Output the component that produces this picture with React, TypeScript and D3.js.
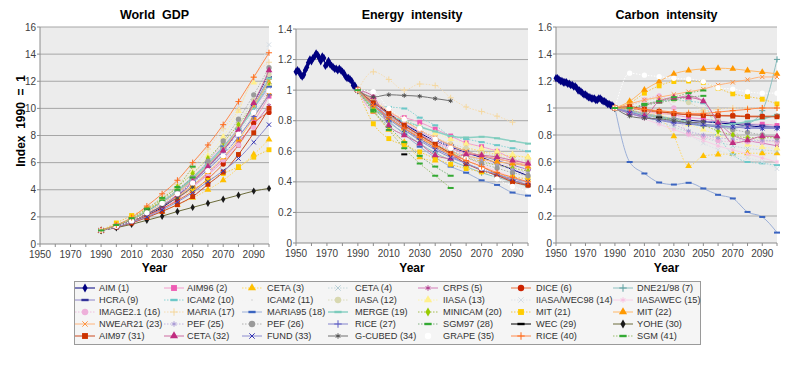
import * as d3 from "d3";
import * as React from "react";

type V = number | null;
const _ = null;

// scenario years and historical years
const years = [1990, 2000, 2010, 2020, 2030, 2040, 2050, 2060, 2070, 2080, 2090, 2100];
const histYears = [
  1950, 1951, 1952, 1953, 1954, 1955, 1956, 1957, 1958, 1959, 1960, 1961, 1962, 1963,
  1964, 1965, 1966, 1967, 1968, 1969, 1970, 1971, 1972, 1973, 1974, 1975, 1976, 1977,
  1978, 1979, 1980, 1981, 1982, 1983, 1984, 1985, 1986, 1987, 1988, 1989, 1990,
];

const energyHist = [
  1.12, 1.13, 1.12, 1.1, 1.09, 1.1, 1.13, 1.15, 1.18, 1.2, 1.19, 1.21, 1.22, 1.24,
  1.23, 1.21, 1.19, 1.22, 1.21, 1.16, 1.17, 1.19, 1.17, 1.16, 1.15, 1.14, 1.14, 1.13,
  1.14, 1.13, 1.12, 1.11, 1.09, 1.08, 1.08, 1.07, 1.06, 1.03, 1.03, 1.01, 1.0,
];
const carbonHist = [
  1.22, 1.22, 1.21, 1.2, 1.2, 1.19, 1.19, 1.19, 1.18, 1.18, 1.17, 1.17, 1.16, 1.16,
  1.15, 1.13, 1.13, 1.12, 1.11, 1.1, 1.1, 1.09, 1.08, 1.08, 1.07, 1.07, 1.07, 1.06,
  1.06, 1.07, 1.07, 1.06, 1.05, 1.05, 1.04, 1.03, 1.03, 1.02, 1.02, 1.01, 1.0,
];

// World GDP, index 1990 = 1
const gdp: Record<number, V[]> = {
  1: [1, 1.25, 1.6, 2.1, 2.7, 3.5, 4.6, 5.7, 6.9, 8.4, 10.4, 12.6],
  2: [1, 1.3, 1.6, 2.0, 2.6, 3.3, 4.2, 5.1, 6.1, 7.3, 9.0, 10.9],
  3: [1, 1.3, 1.6, 2.0, 2.4, 2.9, 3.4, 4.0, 4.7, 5.6, 6.6, 7.7],
  4: [1, 1.3, 1.7, 2.2, 2.8, 3.5, 4.4, 5.4, 6.5, 7.9, 9.5, 11.2],
  5: [1, 1.3, 1.7, 2.2, 2.8, 3.5, 4.3, 5.2, 6.3, 7.5, 8.8, 10.2],
  6: [1, 1.3, 1.65, 2.1, 2.6, 3.2, 3.9, 4.8, 5.9, 7.3, 8.9, 9.7],
  7: [1, 1.35, 1.8, 2.4, 3.0, 3.8, 4.8, 5.8, 7.0, 8.4, 10.0, 11.8],
  9: [1, 1.3, 1.7, 2.2, 2.8, 3.6, 4.6, 5.7, 7.0, 8.4, 10.2, 12.3],
  10: [1, 1.3, 1.7, 2.3, 2.9, 3.7, 4.7, 5.8, 7.0, 8.4, 10.1, 12.2],
  12: [1, 1.35, 1.8, 2.4, 3.1, 4.0, 5.0, 6.1, 7.4, 8.9, 10.6, 12.5],
  13: [1, 1.4, 1.9, 2.5, 3.3, 4.2, 5.3, 6.5, 7.9, 9.8, 11.9, 11.8],
  14: [1, 1.4, 1.9, 2.6, 3.5, 4.6, 5.9, 7.2, 8.6, 10.2, 12.2, 14.7],
  15: [1, 1.35, 1.8, 2.4, 3.1, 4.0, 5.0, 6.1, 7.3, 8.6, 10.0, 11.5],
  16: [1, 1.3, 1.7, 2.2, 2.8, 3.5, 4.3, 5.2, 6.2, 7.3, 8.6, 10.0],
  17: [1, 1.4, 1.9, 2.6, 3.4, 4.4, 5.6, 7.0, 8.5, 9.9, 12.3, 13.4],
  18: [1, 1.3, 1.7, 2.3, 3.0, 3.9, 4.9, 6.0, 7.2, 8.5, 10.0, 11.6],
  19: [1, 1.35, 1.8, 2.4, 3.1, 3.9, 4.9, 5.9, 7.1, 8.5, 10.0, 12.2],
  20: [1, 1.35, 1.85, 2.5, 3.3, 4.2, 5.2, 6.3, 7.5, 8.8, 10.3, 11.9],
  21: [1, 1.55, 2.1, 2.6, 3.1, 3.5, 4.0, 4.7, 5.2, 5.7, 6.4, 6.95],
  22: [1, 1.3, 1.7, 2.2, 2.8, 3.5, 4.3, 5.3, 6.4, 7.7, 9.3, 11.1],
  23: [1, 1.35, 1.8, 2.3, 3.0, 3.8, 4.7, 5.8, 7.0, 8.5, 10.2, 12.0],
  25: [1, 1.3, 1.7, 2.2, 2.9, 3.7, 4.6, 5.6, 6.8, 8.2, 9.7, 11.4],
  26: [1, 1.35, 1.8, 2.4, 3.1, 3.9, 4.9, 6.1, 7.6, 9.2, 11.0, 13.0],
  27: [1, 1.3, 1.7, 2.2, 2.8, 3.6, 4.5, 5.5, 6.6, 7.9, 9.4, 11.0],
  28: [1, 1.35, 1.8, 2.4, 3.2, 4.0, 4.9],
  29: [_, _, _, 2.6],
  30: [1, 1.2, 1.45, 1.75, 2.05, 2.4, 2.7, 3.0, 3.3, 3.6, 3.9, 4.1],
  31: [1, 1.25, 1.55, 1.95, 2.4, 2.9, 3.5, 4.4, 5.3, 6.6, 8.2, 10.0],
  32: [1, 1.3, 1.7, 2.2, 2.8, 3.6, 4.6, 5.7, 6.9, 8.4, 10.4, 12.8],
  33: [1, 1.25, 1.6, 2.0, 2.5, 3.1, 3.8, 4.6, 5.4, 6.3, 7.5, 8.8],
  34: [1, 1.3, 1.7, 2.2, 2.8, 3.4, 4.2],
  35: [1, 1.3, 1.7, 2.3, 3.0, 3.7, 4.5, 5.4, 6.5, 8.1, 9.7, 11.3],
  40: [1, 1.4, 1.95, 2.8, 3.7, 4.7, 6.0, 7.3, 8.8, 10.5, 12.3, 14.1],
  41: [1, 1.4, 1.9, 2.6, 3.4, 4.2, 5.7],
};

// Energy intensity, index 1990 = 1
const energy: Record<number, V[]> = {
  1: [1, 0.93, 0.85, 0.78, 0.72, 0.67, 0.63, 0.59, 0.56, 0.52, 0.48, 0.44],
  2: [1, 0.86, 0.84, 0.82, 0.79, 0.745, 0.7, 0.655, 0.63, 0.6, 0.55, 0.52],
  3: [1, 0.86, 0.74, 0.66, 0.56, 0.54, 0.6, 0.62, 0.6, 0.58, 0.57, 0.56],
  4: [1, 0.9, 0.82, 0.76, 0.7, 0.65, 0.61, 0.58, 0.55, 0.53, 0.52, 0.51],
  5: [1, 0.92, 0.84, 0.77, 0.71, 0.66, 0.62, 0.59, 0.57, 0.55, 0.53, 0.5],
  6: [1, 0.9, 0.83, 0.76, 0.7, 0.64, 0.59, 0.54, 0.5, 0.45, 0.41, 0.38],
  7: [1, 0.88, 0.79, 0.72, 0.65, 0.59, 0.54, 0.5, 0.46, 0.43, 0.4, 0.37],
  9: [1, 0.92, 0.84, 0.78, 0.73, 0.68, 0.64, 0.6, 0.57, 0.54, 0.51, 0.48],
  10: [1, 0.9, 0.89, 0.88, 0.82, 0.77, 0.7, 0.68, 0.66, 0.64, 0.62, 0.6],
  12: [1, 0.93, 0.86, 0.8, 0.74, 0.69, 0.65, 0.62, 0.59, 0.57, 0.55, 0.54],
  13: [1, 0.94, 0.87, 0.81, 0.76, 0.72, 0.68, 0.65, 0.62, 0.6, 0.58, 0.56],
  14: [1, 0.92, 0.83, 0.76, 0.7, 0.64, 0.58, 0.53, 0.48, 0.44, 0.4, 0.36],
  15: [1, 0.93, 0.86, 0.79, 0.73, 0.67, 0.61, 0.56, 0.51, 0.47, 0.43, 0.39],
  16: [1, 0.95, 0.87, 0.8, 0.74, 0.68, 0.63, 0.58, 0.55, 0.52, 0.5, 0.48],
  17: [1, 1.12, 1.07, 1.0, 1.04, 1.03, 0.95, 0.89, 0.86, 0.83, 0.79],
  18: [1, 0.9, 0.8, 0.71, 0.63, 0.56, 0.5, 0.46, 0.41, 0.38, 0.33, 0.31],
  19: [1, 0.88, 0.83, 0.8, 0.76, 0.73, 0.7, 0.69, 0.695, 0.685, 0.667, 0.65],
  20: [1, 0.88, 0.81, 0.74, 0.68, 0.63, 0.59, 0.56, 0.53, 0.51, 0.49, 0.47],
  21: [1, 0.78, 0.683, 0.64, 0.596, 0.553, 0.515, 0.487, 0.465, 0.45, 0.432, 0.42],
  22: [1, 0.9, 0.82, 0.75, 0.69, 0.64, 0.6, 0.57, 0.55, 0.53, 0.52, 0.5],
  23: [1, 0.93, 0.86, 0.8, 0.74, 0.69, 0.64, 0.6, 0.57, 0.55, 0.53, 0.51],
  25: [1, 0.91, 0.83, 0.76, 0.7, 0.65, 0.61, 0.57, 0.54, 0.51, 0.48, 0.46],
  26: [1, 0.92, 0.84, 0.77, 0.71, 0.65, 0.6, 0.56, 0.52, 0.49, 0.46, 0.44],
  27: [1, 0.91, 0.82, 0.75, 0.68, 0.62, 0.57, 0.52, 0.48, 0.44, 0.41, 0.38],
  28: [1, 0.86, 0.76, 0.66, 0.57, 0.5, 0.44],
  29: [_, _, _, 0.58],
  31: [1, 0.917, 0.847, 0.77, 0.705, 0.646, 0.585, 0.52, 0.476, 0.443, 0.4, 0.378],
  32: [1, 0.957, 0.77, 0.705, 0.65, 0.574, 0.553, 0.58, 0.574, 0.563, 0.54, 0.52],
  33: [1, 0.9, 0.81, 0.74, 0.67, 0.61, 0.56, 0.52, 0.48, 0.45, 0.42, 0.4],
  34: [1, 0.955, 0.97, 0.965, 0.96, 0.945, 0.93],
  35: [1, 0.99, 0.88, 0.81, 0.75, 0.68, 0.62, 0.55, 0.49, 0.42, 0.37, 0.34],
  40: [1, 0.9, 0.82, 0.75, 0.69, 0.63, 0.58, 0.54, 0.5, 0.46, 0.43, 0.4],
  41: [1, 0.87, 0.74, 0.62, 0.52, 0.44, 0.36],
};

// Carbon intensity, index 1990 = 1
const carbon: Record<number, V[]> = {
  1: [1, 0.97, 0.95, 0.93, 0.92, 0.91, 0.9, 0.89, 0.88, 0.87, 0.86, 0.86],
  2: [1, 0.98, 0.97, 0.96, 0.95, 0.93, 0.92, 0.9, 0.89, 0.88, 0.88, 0.87],
  3: [1, 0.97, 0.95, 0.93, 0.79, 0.57, 0.644, 0.656, 0.66, 0.665, 0.665, 0.664],
  4: [1, 0.96, 0.93, 0.9, 0.86, 0.82, 0.78, 0.75, 0.72, 0.7, 0.69, 0.68],
  5: [1, 0.98, 1.02, 1.05, 1.07, 1.09, 1.05, 0.9, 0.8, 0.76, 0.74, 0.72],
  6: [1, 1.0, 0.98, 0.97, 0.96, 0.95, 0.95, 0.945, 0.945, 0.94, 0.94, 0.94],
  7: [1, 0.98, 0.96, 0.94, 0.92, 0.9, 0.88, 0.86, 0.85, 0.88, 0.98, 1.36],
  9: [1, 0.96, 0.93, 0.91, 0.9, 0.89, 0.9, 0.9, 0.89, 0.88, 0.87, 0.86],
  10: [1, 0.99, 1.03, 1.05, 1.06, 1.05, 1.035, 0.8, 0.656, 0.6, 0.59, 0.577],
  12: [1, 1.02, 1.05, 1.07, 1.06, 1.04, 0.98, 0.9, 0.83, 0.78, 0.76, 0.75],
  13: [1, 0.99, 0.97, 0.95, 0.92, 0.88, 0.84, 0.8, 0.76, 0.73, 0.71, 0.7],
  14: [1, 0.97, 0.93, 0.89, 0.85, 0.8, 0.74, 0.69, 0.65, 0.63, 0.6, 0.55],
  15: [1, 0.96, 0.92, 0.88, 0.84, 0.8, 0.76, 0.72, 0.69, 0.66, 0.63, 0.6],
  16: [1, 1.02, 1.06, 1.09, 1.0, 0.81, 0.79, 0.76, 0.75, 0.75, 0.75, 0.75],
  17: [1, 0.98, 0.96, 0.95, 0.96, 0.97, 0.98, 0.99, 1.0, 1.0, 1.0, 1.0],
  18: [1, 0.6, 0.515, 0.448, 0.433, 0.446, 0.404, 0.357, 0.33, 0.23, 0.193, 0.077],
  19: [1, 0.97, 0.95, 0.93, 0.91, 0.89, 0.87, 0.87, 0.88, 0.9, 0.92, 0.95],
  20: [1, 0.99, 0.95, 0.93, 0.916, 0.887, 0.87, 0.83, 0.8, 0.78, 0.78, 0.78],
  21: [1, 1.035, 1.11, 1.164, 1.196, 1.2, 1.19, 1.147, 1.105, 1.085, 1.065, 1.03],
  22: [1, 1.05, 1.134, 1.196, 1.253, 1.278, 1.29, 1.295, 1.29, 1.278, 1.266, 1.253],
  23: [1, 1.03, 1.06, 1.08, 1.1, 1.12, 1.14, 1.17, 1.19, 1.21, 1.23, 1.23],
  25: [1, 0.98, 0.95, 0.92, 0.88, 0.83, 0.8, 0.78, 0.77, 0.76, 0.76, 0.76],
  26: [1, 0.98, 0.96, 0.94, 0.92, 0.9, 0.88, 0.86, 0.84, 0.82, 0.8, 0.78],
  27: [1, 0.97, 0.94, 0.91, 0.89, 0.88, 0.87, 0.86, 0.86, 0.85, 0.85, 0.85],
  28: [1, 1.0, 1.02, 1.04, 1.06, 1.08, 1.09],
  29: [_, _, _, 0.93],
  31: [1, 1.01, 0.99, 0.975, 0.96, 0.95, 0.945, 0.942, 0.94, 0.935, 0.935, 0.935],
  32: [1, 0.96, 0.94, 1.05, 1.077, 1.077, 1.05, 0.89, 0.74, 0.76, 0.79, 0.79],
  33: [1, 0.96, 0.93, 0.91, 0.9, 0.89, 0.88, 0.87, 0.86, 0.86, 0.85, 0.85],
  34: [1, 0.94, 0.924, 0.92, 0.906, 0.89, 0.9],
  35: [1, 1.258, 1.243, 1.233, 1.22, 1.213, 1.196, 1.15, 1.14, 1.12, 1.11, 1.11],
  40: [1, 1.0, 0.99, 0.98, 0.97, 0.96, 0.96, 0.97, 0.98, 0.99, 1.0, 1.0],
  41: [1, 1.0, 1.03, 1.05, 1.08, 1.11, 1.13],
};

// legend order, row by row (7 per row)
const legendIds = [
  1, 2, 3, 4, 5, 6, 7,
  9, 10, 11, 12, 13, 14, 15,
  16, 17, 18, 19, 20, 21, 22,
  23, 25, 26, 27, 28, 29, 30,
  31, 32, 33, 34, 35, 40, 41,
];

type Mk = "diamond" | "square" | "triangle" | "circle" | "times" | "plus" | "asterisk" | "dash" | "dot";
interface Style { name: string; mk: Mk; color: string; line: string; dash?: string; lw?: number; }

const styles: Record<number, Style> = {
  1: { name: "AIM (1)", mk: "diamond", color: "#000080", line: "#000080" },
  2: { name: "AIM96 (2)", mk: "square", color: "#ee5cb4", line: "#f29ccc" },
  3: { name: "CETA (3)", mk: "triangle", color: "#ffc000", line: "#ffd966", dash: "1.5,1.5" },
  4: { name: "CETA (4)", mk: "times", color: "#b4ccd4", line: "#c4d8dc", dash: "1.5,1.5" },
  5: { name: "CRPS (5)", mk: "asterisk", color: "#b03a8c", line: "#d27cb8" },
  6: { name: "DICE (6)", mk: "circle", color: "#cc2200", line: "#e8703c" },
  7: { name: "DNE21/98 (7)", mk: "plus", color: "#5ea0a0", line: "#8cc0c0" },
  9: { name: "HCRA (9)", mk: "dash", color: "#333399", line: "#8c84c8" },
  10: { name: "ICAM2 (10)", mk: "dash", color: "#6cc8c8", line: "#88d4d4", dash: "1.5,1.5" },
  11: { name: "ICAM2 (11)", mk: "dot", color: "#c8c8c8", line: "#f4f4f4", dash: "1,2" },
  12: { name: "IIASA (12)", mk: "circle", color: "#d8d8b0", line: "#dcdcbc", dash: "1.5,1.5" },
  13: { name: "IIASA (13)", mk: "triangle", color: "#fff08c", line: "#fff4a8", dash: "1.5,1.5" },
  14: { name: "IIASA/WEC98 (14)", mk: "times", color: "#d4dce4", line: "#dde3ea", dash: "1.5,1.5" },
  15: { name: "IIASAWEC (15)", mk: "asterisk", color: "#f8c0e0", line: "#f8d0e8" },
  16: { name: "IMAGE2.1 (16)", mk: "circle", color: "#eeb0da", line: "#f0c0e0", dash: "1.5,1.5" },
  17: { name: "MARIA (17)", mk: "plus", color: "#f4d8a0", line: "#f6dcb0", dash: "1.5,1.5" },
  18: { name: "MARIA95 (18)", mk: "dash", color: "#3a64c0", line: "#9cb0d8" },
  19: { name: "MERGE (19)", mk: "dash", color: "#7cccbc", line: "#8cd0c4", lw: 1.5 },
  20: { name: "MINICAM (20)", mk: "diamond", color: "#99cc00", line: "#a4bc50", dash: "1.5,1.5" },
  21: { name: "MIT (21)", mk: "square", color: "#ffcc00", line: "#f4c848", dash: "1.5,1.5" },
  22: { name: "MIT (22)", mk: "triangle", color: "#ff9900", line: "#ffb868" },
  23: { name: "NWEAR21 (23)", mk: "times", color: "#ff9440", line: "#ffb47c" },
  25: { name: "PEF (25)", mk: "asterisk", color: "#a898d4", line: "#c0b4e0", dash: "1.5,1.5" },
  26: { name: "PEF (26)", mk: "circle", color: "#9a9a9a", line: "#b0b0b0", dash: "1.5,1.5" },
  27: { name: "RICE (27)", mk: "plus", color: "#5c5cc4", line: "#8484cc" },
  28: { name: "SGM97 (28)", mk: "dash", color: "#33aa33", line: "#80b080", dash: "1.5,1.5" },
  29: { name: "WEC (29)", mk: "dash", color: "#000000", line: "#000000" },
  30: { name: "YOHE (30)", mk: "diamond", color: "#1a1a1a", line: "#6b6b3a" },
  31: { name: "AIM97 (31)", mk: "square", color: "#cc3300", line: "#cc4a20" },
  32: { name: "CETA (32)", mk: "triangle", color: "#c02c80", line: "#cc6aa0" },
  33: { name: "FUND (33)", mk: "times", color: "#3434b4", line: "#8c8cd0" },
  34: { name: "G-CUBED (34)", mk: "asterisk", color: "#505050", line: "#707070" },
  35: { name: "GRAPE (35)", mk: "circle", color: "#ffffff", line: "#ffffff", dash: "1.5,1.5" },
  40: { name: "RICE (40)", mk: "plus", color: "#ff6a1a", line: "#ff8a4c" },
  41: { name: "SGM (41)", mk: "dash", color: "#33aa33", line: "#9cbc6c", dash: "1.5,1.5" },
};

const legendColX = [85, 174, 252, 338, 428, 521, 623];
const legendTextX = [99, 187, 267, 355, 443, 536, 637];
const legendRowY = [288, 300, 312, 324, 336];

const FONT = "'Liberation Sans', Arial, sans-serif";

const symType: Record<string, d3.SymbolType> = {
  diamond: d3.symbolDiamond,
  square: d3.symbolSquare,
  triangle: d3.symbolTriangle,
  circle: d3.symbolCircle,
  times: d3.symbolTimes,
  plus: d3.symbolPlus,
  asterisk: d3.symbolAsterisk,
};
const symSize: Record<string, number> = {
  diamond: 16, square: 24, triangle: 20, circle: 22, times: 14, plus: 14, asterisk: 14,
};
const strokeMk = new Set(["times", "plus", "asterisk"]);

function Marker({ mk, color, x, y, k = 1 }: { mk: Mk; color: string; x: number; y: number; k?: number }) {
  if (mk === "dash") return <rect x={x - 3 * k} y={y - 1 * k} width={6 * k} height={2 * k} fill={color} />;
  if (mk === "dot") return <circle cx={x} cy={y} r={0.7} fill={color} />;
  const d = d3.symbol(symType[mk], symSize[mk] * k * k)() as string;
  const stroke = strokeMk.has(mk);
  return (
    <path
      d={d}
      transform={`translate(${x},${y})`}
      fill={stroke ? "none" : color}
      stroke={stroke ? color : "none"}
      strokeWidth={stroke ? 1 : 0}
    />
  );
}

interface PanelDef {
  title: string; x0: number; x1: number; yTop: number; yBot: number;
  max: number; step: number; data: Record<number, V[]>; hist: number[] | null;
}

const panels: PanelDef[] = [
  { title: "World  GDP", x0: 40, x1: 269, yTop: 27, yBot: 244, max: 16, step: 2, data: gdp, hist: null },
  { title: "Energy  intensity", x0: 296, x1: 528, yTop: 29, yBot: 243, max: 1.4, step: 0.2, data: energy, hist: energyHist },
  { title: "Carbon  intensity", x0: 556, x1: 777, yTop: 27, yBot: 243, max: 1.6, step: 0.2, data: carbon, hist: carbonHist },
];

function Panel({ p }: { p: PanelDef }) {
  const x = d3.scaleLinear().domain([1950, 2100]).range([p.x0, p.x1]);
  const y = d3.scaleLinear().domain([0, p.max]).range([p.yBot, p.yTop]);
  const yTicks = d3.range(0, p.max + 1e-9, p.step);
  const xMinor = d3.range(1950, 2101, 10);
  const xLabels = d3.range(1950, 2100, 20);
  const line = d3
    .line<[number, V]>()
    .defined((d) => d[1] != null)
    .x((d) => x(d[0]))
    .y((d) => y(d[1] as number))
    .curve(d3.curveMonotoneX);
  const fmt = (v: number) => (p.step < 1 ? String(+v.toFixed(1)) : String(v));
  const cx = (p.x0 + p.x1) / 2;

  return (
    <g>
      <rect x={p.x0} y={p.yTop} width={p.x1 - p.x0} height={p.yBot - p.yTop} fill="#ececec" />
      {yTicks.slice(1).map((t) => (
        <line key={t} x1={p.x0} x2={p.x1} y1={y(t)} y2={y(t)} stroke="#a6a6a6" strokeWidth={1} />
      ))}
      <line x1={p.x0} x2={p.x0} y1={p.yTop} y2={p.yBot} stroke="#8c8c8c" />
      <line x1={p.x0} x2={p.x1} y1={p.yBot} y2={p.yBot} stroke="#8c8c8c" />
      {yTicks.map((t) => (
        <g key={t}>
          <line x1={p.x0 - 3} x2={p.x0} y1={y(t)} y2={y(t)} stroke="#8c8c8c" />
          <text x={p.x0 - 4} y={y(t) + 3.5} textAnchor="end" fontSize={10} fill="#404040" fontFamily={FONT}>
            {fmt(t)}
          </text>
        </g>
      ))}
      {xMinor.map((t) => (
        <line key={t} x1={x(t)} x2={x(t)} y1={p.yBot} y2={p.yBot + 3} stroke="#8c8c8c" />
      ))}
      {xLabels.map((t) => (
        <text key={t} x={x(t)} y={p.yBot + 14} textAnchor="middle" fontSize={10} fill="#404040" fontFamily={FONT}>
          {t}
        </text>
      ))}

      {p.hist && (
        <g>
          <path d={line(histYears.map((yr, i) => [yr, p.hist![i]]) as [number, V][]) || ""} fill="none" stroke="#000080" />
          {histYears.map((yr, i) => (
            <Marker key={yr} mk="diamond" color="#000080" x={x(yr)} y={y(p.hist![i])} k={1.15} />
          ))}
        </g>
      )}

      {legendIds
        .filter((id) => p.data[id])
        .map((id) => {
          const s = styles[id];
          const vals = p.data[id];
          const pts: [number, V][] = vals.map((v, i) => [years[i], v]);
          return (
            <g key={id}>
              <path
                d={line(pts) || ""}
                fill="none"
                stroke={s.line}
                strokeWidth={s.lw ?? 1}
                strokeDasharray={s.dash}
              />
              {pts
                .filter((d) => d[1] != null)
                .map((d) => (
                  <Marker key={d[0]} mk={s.mk} color={s.color} x={x(d[0])} y={y(d[1] as number)} />
                ))}
            </g>
          );
        })}

      <text x={cx} y={19} textAnchor="middle" fontSize={12.5} fontWeight="bold" fontFamily={FONT} style={{ whiteSpace: "pre" }}>
        {p.title}
      </text>
      <text x={cx} y={272} textAnchor="middle" fontSize={12} fontWeight="bold" fontFamily={FONT}>
        Year
      </text>
    </g>
  );
}

function Legend() {
  return (
    <g>
      <rect x={74.5} y={281.5} width={626} height={63} fill="#f5f5f5" stroke="#9a9a9a" />
      {legendIds.map((id, i) => {
        const col = i % 7;
        const row = Math.floor(i / 7);
        const s = styles[id];
        const cx = legendColX[col];
        const cy = legendRowY[row];
        return (
          <g key={id}>
            <line
              x1={cx - 10}
              x2={cx + 10}
              y1={cy}
              y2={cy}
              stroke={s.line === "#ffffff" ? "#f5f5f5" : s.line}
              strokeWidth={s.lw ?? 1}
              strokeDasharray={s.dash}
            />
            <Marker mk={s.mk} color={s.color} x={cx} y={cy} k={1.2} />
            <text x={legendTextX[col]} y={cy + 3.3} fontSize={9.2} fill="#333" fontFamily={FONT}>
              {s.name}
            </text>
          </g>
        );
      })}
    </g>
  );
}

export default function App() {
  return (
    <svg
      width={793}
      height={366}
      style={{ position: "absolute", left: 0, top: 0, background: "#fff" }}
    >
      {panels.map((p) => (
        <Panel key={p.title} p={p} />
      ))}
      <text
        transform="translate(25,121) rotate(-90)"
        textAnchor="middle"
        fontSize={12}
        fontWeight="bold"
        fontFamily={FONT}
        style={{ whiteSpace: "pre" }}
      >
        Index  1990  =  1
      </text>
      <Legend />
    </svg>
  );
}
